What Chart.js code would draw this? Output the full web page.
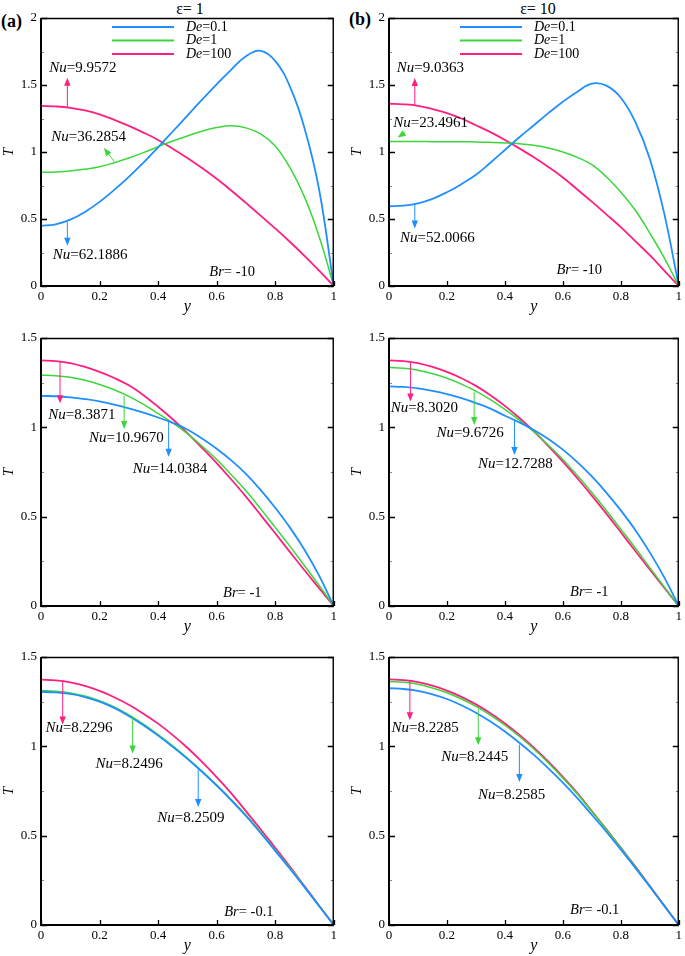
<!DOCTYPE html>
<html><head><meta charset="utf-8">
<script src="https://cdn.jsdelivr.net/npm/chart.js@4.4.1/dist/chart.umd.min.js"></script>
<style>
html,body{margin:0;padding:0;background:#fff;}
body{width:685px;height:956px;position:relative;overflow:hidden;font-family:"Liberation Serif","Times New Roman",serif;color:#000;}
.box{position:absolute;}
.hdr{position:absolute;white-space:nowrap;line-height:1;}
</style></head><body>
<div class="hdr" style="left:1px;top:12px;font-weight:bold;font-size:18px">(a)</div>
<div class="hdr" style="left:349px;top:10px;font-weight:bold;font-size:18px">(b)</div>
<div class="hdr" style="left:190px;top:1px;font-size:16px;transform:translateX(-50%)">ε= 1</div>
<div class="hdr" style="left:538px;top:1px;font-size:16px;transform:translateX(-50%)">ε= 10</div>
<script>
// ---------------- data ----------------
const yPos = [0, 0.05, 0.1, 0.15, 0.2, 0.25, 0.3, 0.35, 0.4, 0.45, 0.5, 0.55, 0.6, 0.65, 0.7, 0.75, 0.8, 0.85, 0.9, 0.95, 1];
const deLabels = ['0.1', '1', '100'];

// (a) eps = 1, Br = -10
const a_Br10_De01  = [0.449, 0.46, 0.495, 0.553, 0.628, 0.717, 0.815, 0.92, 1.035, 1.153, 1.272, 1.39, 1.505, 1.615, 1.715, 1.755, 1.68, 1.49, 1.18, 0.72, 0];
const a_Br10_De1   = [0.848, 0.851, 0.858, 0.872, 0.89, 0.92, 0.955, 0.995, 1.04, 1.082, 1.12, 1.155, 1.182, 1.195, 1.18, 1.135, 1.045, 0.885, 0.665, 0.37, 0];
const a_Br10_De100 = [1.344, 1.34, 1.33, 1.31, 1.28, 1.24, 1.195, 1.145, 1.09, 1.025, 0.955, 0.88, 0.80, 0.713, 0.62, 0.525, 0.43, 0.33, 0.225, 0.115, 0];
// (b) eps = 10, Br = -10
const b_Br10_De01  = [0.595, 0.60, 0.616, 0.65, 0.70, 0.76, 0.83, 0.92, 1.015, 1.11, 1.20, 1.29, 1.375, 1.45, 1.51, 1.495, 1.405, 1.225, 0.95, 0.54, 0];
const b_Br10_De1   = [1.078, 1.078, 1.078, 1.077, 1.077, 1.076, 1.075, 1.072, 1.068, 1.062, 1.05, 1.03, 1.0, 0.96, 0.905, 0.815, 0.70, 0.565, 0.395, 0.21, 0];
const b_Br10_De100 = [1.36, 1.356, 1.345, 1.32, 1.29, 1.25, 1.20, 1.148, 1.09, 1.027, 0.96, 0.888, 0.81, 0.72, 0.63, 0.535, 0.44, 0.335, 0.23, 0.115, 0];
// (a) eps = 1, Br = -1
const a_Br1_De01  = [1.176, 1.174, 1.168, 1.158, 1.145, 1.127, 1.106, 1.082, 1.055, 1.025, 0.988, 0.937, 0.88, 0.815, 0.74, 0.65, 0.55, 0.44, 0.315, 0.17, 0];
const a_Br1_De1   = [1.292, 1.289, 1.28, 1.263, 1.24, 1.21, 1.173, 1.128, 1.077, 1.025, 0.965, 0.895, 0.82, 0.735, 0.645, 0.545, 0.44, 0.335, 0.225, 0.115, 0];
const a_Br1_De100 = [1.375, 1.371, 1.36, 1.338, 1.31, 1.276, 1.235, 1.18, 1.115, 1.045, 0.968, 0.885, 0.80, 0.708, 0.612, 0.51, 0.407, 0.303, 0.20, 0.10, 0];
// (b) eps = 10, Br = -1
const b_Br1_De01  = [1.229, 1.226, 1.218, 1.204, 1.186, 1.163, 1.136, 1.105, 1.065, 1.028, 0.985, 0.935, 0.875, 0.805, 0.725, 0.635, 0.535, 0.425, 0.30, 0.16, 0];
const b_Br1_De1   = [1.335, 1.331, 1.32, 1.30, 1.275, 1.242, 1.203, 1.155, 1.10, 1.04, 0.975, 0.90, 0.82, 0.73, 0.635, 0.535, 0.43, 0.325, 0.215, 0.107, 0];
const b_Br1_De100 = [1.375, 1.371, 1.36, 1.338, 1.31, 1.275, 1.232, 1.18, 1.12, 1.052, 0.978, 0.895, 0.808, 0.715, 0.618, 0.517, 0.413, 0.308, 0.205, 0.102, 0];
// (a) eps = 1, Br = -0.1
const a_Br01_De01  = [1.305, 1.302, 1.293, 1.276, 1.25, 1.215, 1.17, 1.118, 1.06, 0.997, 0.93, 0.857, 0.78, 0.698, 0.61, 0.515, 0.415, 0.315, 0.212, 0.106, 0];
const a_Br01_De1   = [1.312, 1.308, 1.299, 1.282, 1.256, 1.221, 1.176, 1.124, 1.066, 1.003, 0.935, 0.862, 0.785, 0.703, 0.615, 0.52, 0.42, 0.32, 0.215, 0.108, 0];
const a_Br01_De100 = [1.373, 1.369, 1.358, 1.338, 1.31, 1.275, 1.233, 1.183, 1.127, 1.063, 0.992, 0.913, 0.828, 0.737, 0.637, 0.536, 0.432, 0.327, 0.218, 0.108, 0];
// (b) eps = 10, Br = -0.1
const b_Br01_De01  = [1.325, 1.321, 1.31, 1.291, 1.265, 1.23, 1.188, 1.139, 1.083, 1.02, 0.952, 0.877, 0.797, 0.71, 0.617, 0.522, 0.422, 0.32, 0.214, 0.107, 0];
const b_Br01_De1   = [1.362, 1.358, 1.347, 1.327, 1.30, 1.265, 1.224, 1.175, 1.118, 1.055, 0.985, 0.907, 0.823, 0.733, 0.635, 0.535, 0.431, 0.326, 0.217, 0.108, 0];
const b_Br01_De100 = [1.375, 1.371, 1.36, 1.34, 1.312, 1.277, 1.235, 1.185, 1.128, 1.064, 0.993, 0.914, 0.829, 0.738, 0.638, 0.537, 0.433, 0.328, 0.219, 0.109, 0];

// Nusselt numbers (order De=0.1, De=1, De=100)
const nu_a_Br10 = ['62.1886', '36.2854', '9.9572'];
const nu_b_Br10 = ['52.0066', '23.4961', '9.0363'];
const nu_a_Br1  = ['14.0384', '10.9670', '8.3871'];
const nu_b_Br1  = ['12.7288', '9.6726', '8.3020'];
const nu_a_Br01 = ['8.2509', '8.2496', '8.2296'];
const nu_b_Br01 = ['8.2585', '8.2445', '8.2285'];
const brValues = ['-10', '-1', '-0.1'];

// ---------------- styling / layout ----------------
const COLORS = ['#1f8fff', '#3cd63c', '#ff1f7e'];
const FONT = '"Liberation Serif", "Times New Roman", serif';

// annotation placement (data coordinates), order blue, green, pink
const panels = [
  { left:0,   top:0,   w:340, h:316, padL:0, padT:18, padR:6, yMax:2, legend:true,
    series:[a_Br10_De01, a_Br10_De1, a_Br10_De100], nu:nu_a_Br10, br:brValues[0], brPos:[0.575,0.1],
    arrows:[[0.09,0.478,0.09,0.30],[0.25,0.93,0.215,1.03],[0.09,1.335,0.09,1.555]],
    labels:[[0.04,0.23],[0.035,1.112],[0.028,1.628]] },
  { left:340, top:0,   w:345, h:316, padL:8, padT:18, padR:3, yMax:2, legend:true,
    series:[b_Br10_De01, b_Br10_De1, b_Br10_De100], nu:nu_b_Br10, br:brValues[0], brPos:[0.578,0.12],
    arrows:[[0.089,0.615,0.089,0.43],[0.055,1.145,0.03,1.108],[0.089,1.35,0.089,1.553]],
    labels:[[0.038,0.355],[0.015,1.215],[0.027,1.628]] },
  { left:0,   top:316, w:340, h:320, padL:0, padT:22, padR:6, yMax:1.5, legend:false,
    series:[a_Br1_De01, a_Br1_De1, a_Br1_De100], nu:nu_a_Br1, br:brValues[1], brPos:[0.622,0.07],
    arrows:[[0.436,1.04,0.436,0.836],[0.284,1.175,0.284,0.99],[0.065,1.365,0.065,1.135]],
    labels:[[0.313,0.766],[0.164,0.94],[0.025,1.07]] },
  { left:340, top:316, w:345, h:320, padL:8, padT:22, padR:3, yMax:1.5, legend:false,
    series:[b_Br1_De01, b_Br1_De1, b_Br1_De100], nu:nu_b_Br1, br:brValues[1], brPos:[0.625,0.075],
    arrows:[[0.433,1.045,0.433,0.845],[0.294,1.2,0.294,1.013],[0.074,1.36,0.074,1.144]],
    labels:[[0.307,0.795],[0.164,0.969],[0.006,1.11]] },
  { left:0,   top:636, w:340, h:319, padL:0, padT:21, padR:6, yMax:1.5, legend:false,
    series:[a_Br01_De01, a_Br01_De1, a_Br01_De100], nu:nu_a_Br01, br:brValues[2], brPos:[0.626,0.07],
    arrows:[[0.537,0.87,0.537,0.661],[0.313,1.16,0.313,0.96],[0.074,1.365,0.074,1.122]],
    labels:[[0.397,0.598],[0.186,0.90],[0.015,1.10]] },
  { left:340, top:636, w:345, h:319, padL:8, padT:21, padR:3, yMax:1.5, legend:false,
    series:[b_Br01_De01, b_Br01_De1, b_Br01_De100], nu:nu_b_Br01, br:brValues[2], brPos:[0.625,0.085],
    arrows:[[0.45,1.01,0.45,0.80],[0.308,1.21,0.308,1.006],[0.072,1.37,0.072,1.146]],
    labels:[[0.307,0.73],[0.18,0.94],[0.009,1.10]] }
];

function drawMixed(ctx, x, y, italicPart, rest, size) {
  ctx.textAlign = 'left';
  ctx.textBaseline = 'middle';
  ctx.font = 'italic ' + size + 'px ' + FONT;
  const w1 = ctx.measureText(italicPart).width;
  ctx.fillText(italicPart, x, y);
  ctx.font = size + 'px ' + FONT;
  ctx.fillText(rest, x + w1, y);
}

function arrow(ctx, x1, y1, x2, y2, color) {
  const ang = Math.atan2(y2 - y1, x2 - x1);
  const L = 8, H = 3.2;
  ctx.strokeStyle = color; ctx.fillStyle = color; ctx.lineWidth = 1;
  ctx.beginPath();
  ctx.moveTo(x1, y1);
  ctx.lineTo(x2 - Math.cos(ang) * (L - 1), y2 - Math.sin(ang) * (L - 1));
  ctx.stroke();
  ctx.beginPath();
  ctx.moveTo(x2, y2);
  ctx.lineTo(x2 - L * Math.cos(ang) + H * Math.sin(ang), y2 - L * Math.sin(ang) - H * Math.cos(ang));
  ctx.lineTo(x2 - L * Math.cos(ang) - H * Math.sin(ang), y2 - L * Math.sin(ang) + H * Math.cos(ang));
  ctx.closePath();
  ctx.fill();
}

const framePlugin = {
  id: 'frameAndNotes',
  afterDatasetsDraw(chart, args, opts) {
    const ctx = chart.ctx;
    const { left, right, top, bottom } = chart.chartArea;
    const xs = chart.scales.x, ys = chart.scales.y;
    const p = opts.panel;
    ctx.save();
    // inward ticks on y (both sides), major + minor
    const yt = ys.ticks.map(t => t.value);
    yt.forEach((v, i) => {
      const py = Math.round(ys.getPixelForValue(v)) + 0.5;
      ctx.strokeStyle = '#000'; ctx.lineWidth = 1.3;
      ctx.beginPath();
      ctx.moveTo(left, py); ctx.lineTo(left + 6, py);
      ctx.moveTo(right, py); ctx.lineTo(right - 6, py);
      ctx.stroke();
      if (i < yt.length - 1) {
        const pm = Math.round(ys.getPixelForValue((v + yt[i + 1]) / 2)) + 0.5;
        ctx.strokeStyle = '#888'; ctx.lineWidth = 1;
        ctx.beginPath();
        ctx.moveTo(left, pm); ctx.lineTo(left + 3, pm);
        ctx.moveTo(right, pm); ctx.lineTo(right - 3, pm);
        ctx.stroke();
      }
    });
    // inward ticks on x (bottom)
    xs.ticks.forEach(t => {
      const px = Math.round(xs.getPixelForValue(t.value)) + 0.5;
      ctx.strokeStyle = '#000'; ctx.lineWidth = 1.3;
      ctx.beginPath(); ctx.moveTo(px, bottom); ctx.lineTo(px, bottom - 5); ctx.stroke();
    });
    // frame
    ctx.strokeStyle = '#000';
    ctx.lineWidth = 1.4;
    ctx.beginPath();
    ctx.moveTo(left, top + 0.5); ctx.lineTo(right, top + 0.5);
    ctx.moveTo(right - 0.5, top); ctx.lineTo(right - 0.5, bottom);
    ctx.stroke();
    ctx.lineWidth = 2;
    ctx.beginPath();
    ctx.moveTo(left, top); ctx.lineTo(left, bottom); ctx.lineTo(right, bottom);
    ctx.stroke();

    // arrows and Nu labels
    p.arrows.forEach((a, i) => {
      arrow(ctx, xs.getPixelForValue(a[0]), ys.getPixelForValue(a[1]),
                 xs.getPixelForValue(a[2]), ys.getPixelForValue(a[3]), COLORS[i]);
    });
    ctx.fillStyle = '#000';
    p.labels.forEach((l, i) => {
      drawMixed(ctx, xs.getPixelForValue(l[0]), ys.getPixelForValue(l[1]), 'Nu', '=' + p.nu[i], 15);
    });
    // Br label
    drawMixed(ctx, xs.getPixelForValue(p.brPos[0]), ys.getPixelForValue(p.brPos[1]), 'Br', '= ' + p.br, 14.5);

    // legend
    if (p.legend) {
      chart.data.datasets.forEach((ds, i) => {
        const ly = top + 9 + i * 13.5;
        ctx.strokeStyle = ds.borderColor; ctx.lineWidth = 2;
        ctx.beginPath(); ctx.moveTo(left + 71, ly); ctx.lineTo(left + 133, ly); ctx.stroke();
        ctx.fillStyle = '#000';
        drawMixed(ctx, left + 145, ly, 'De', '=' + deLabels[i], 14);
      });
    }
    ctx.restore();
  }
};

const fmt = v => String(+Number(v).toFixed(2));

panels.forEach((p) => {
  const div = document.createElement('div');
  div.className = 'box';
  div.style.left = p.left + 'px'; div.style.top = p.top + 'px';
  div.style.width = p.w + 'px'; div.style.height = p.h + 'px';
  const cv = document.createElement('canvas');
  cv.width = p.w; cv.height = p.h;
  cv.style.width = p.w + 'px'; cv.style.height = p.h + 'px';
  div.appendChild(cv);
  document.body.appendChild(div);

  const datasets = p.series.map((s, i) => ({
    label: 'De=' + deLabels[i],
    data: yPos.map((y, k) => ({ x: y, y: s[k] })),
    borderColor: COLORS[i],
    borderWidth: i === 1 ? 1.5 : 1.8,
    pointRadius: 0,
    fill: false,
    tension: 0.4,
    order: i
  }));

  new Chart(cv.getContext('2d'), {
    type: 'line',
    data: { datasets },
    options: {
      responsive: false,
      animation: false,
      devicePixelRatio: 1,
      layout: { padding: { left: p.padL, top: p.padT, right: p.padR, bottom: 0 } },
      plugins: {
        legend: { display: false },
        tooltip: { enabled: false },
        frameAndNotes: { panel: p }
      },
      scales: {
        x: {
          type: 'linear', min: 0, max: 1,
          ticks: { stepSize: 0.2, padding: 3, color: '#000', font: { family: FONT, size: 13 }, maxRotation: 0, callback: fmt },
          grid: { display: false, drawTicks: false },
          border: { display: false },
          title: { display: true, text: 'y', color: '#000', padding: 0, font: { family: FONT, size: 16, style: 'italic' } },
          afterFit: s => { s.height = 30; }
        },
        y: {
          type: 'linear', min: 0, max: p.yMax,
          ticks: { stepSize: 0.5, padding: 4, color: '#000', font: { family: FONT, size: 13 }, callback: fmt },
          grid: { display: false, drawTicks: false },
          border: { display: false },
          title: { display: true, text: 'T', color: '#000', padding: 0, font: { family: FONT, size: 15, style: 'italic' } },
          afterFit: s => { s.width = 41; }
        }
      }
    },
    plugins: [framePlugin]
  });
});
</script>
</body></html>
